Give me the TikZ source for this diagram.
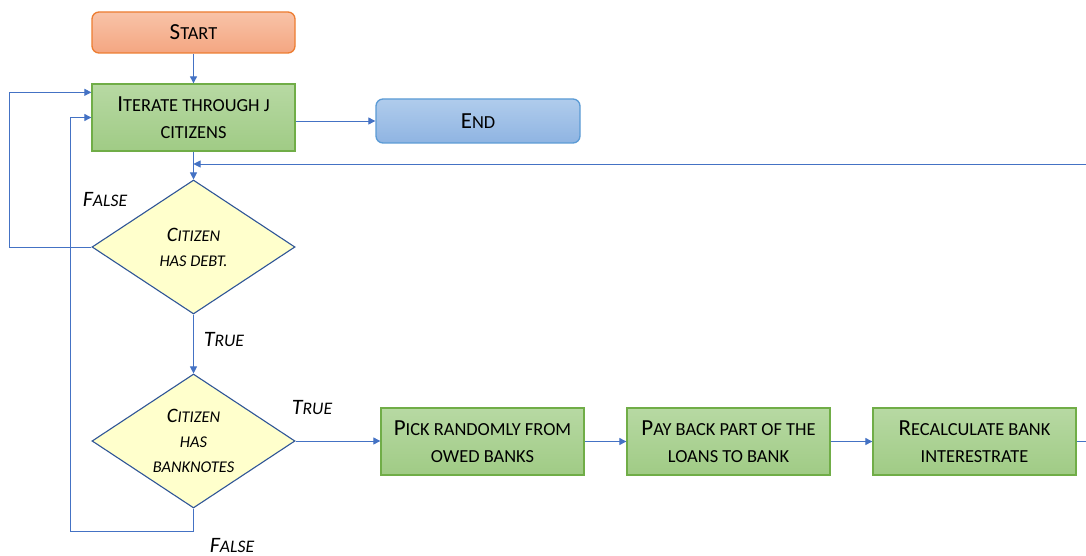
\documentclass[tikz,border=0pt]{standalone}
\usepackage{fontspec}
\setmainfont{Carlito}
\usetikzlibrary{arrows.meta,shapes.geometric,calc}
\makeatletter
% reduced-size capitals standing in for small caps
\newcommand\lc[1]{{\fontsize{\fpeval{0.8*\f@size}}{\f@baselineskip}\selectfont #1}}
\makeatother
\definecolor{arrowblue}{HTML}{4472C4}
\definecolor{orangeedge}{HTML}{ED7D31}
\definecolor{orangetop}{HTML}{F8C3A8}
\definecolor{orangebot}{HTML}{F4A681}
\definecolor{greenedge}{HTML}{70AD47}
\definecolor{greentop}{HTML}{B7D9A3}
\definecolor{greenbot}{HTML}{A0CB85}
\definecolor{blueedge}{HTML}{5B9BD5}
\definecolor{bluetop}{HTML}{B0CCEC}
\definecolor{bluebot}{HTML}{8FB4E2}
\definecolor{decfill}{HTML}{FFFFCC}
\definecolor{decedge}{HTML}{2F5597}
\tikzset{
  boxtext/.style={font=\fontsize{23}{27}\selectfont, align=center, inner sep=0pt},
  terminal/.style={boxtext, rounded corners=7pt, line width=1.3pt,
    minimum width=203pt, minimum height=41pt},
  startbox/.style={terminal, draw=orangeedge, top color=orangetop, bottom color=orangebot},
  endbox/.style={terminal, draw=blueedge, top color=bluetop, bottom color=bluebot,
    minimum width=204pt, minimum height=44pt},
  process/.style={boxtext, draw=greenedge, line width=1.3pt, top color=greentop,
    bottom color=greenbot, minimum width=203pt, minimum height=67pt},
  decision/.style={diamond, draw=decedge, fill=decfill, line width=1.1pt, inner sep=0pt,
    aspect=1.5, minimum width=203pt, minimum height=134pt,
    font=\itshape\fontsize{20.5}{25}\selectfont, align=center},
  flow/.style={draw=arrowblue, line width=0.9pt, -{Triangle[length=7pt,width=7pt]}},
  line/.style={draw=arrowblue, line width=0.9pt},
  answer/.style={font=\itshape\fontsize{22}{24}\selectfont, inner sep=0pt},
}
\begin{document}
\begin{tikzpicture}[x=1pt, y=-1pt]
  \fill[white] (0,0) rectangle (1086,556);
  \useasboundingbox (0,0) rectangle (1086,556);

  % boxes
  \node[startbox] (start) at (193.5,32.5) {S\lc{TART}};
  \node[process]  (iter)  at (193.5,117.5) {I\lc{TERATE THROUGH J}\\\lc{CITIZENS}};
  \node[endbox]   (end)   at (478,121) {E\lc{ND}};
  \node[decision] (debt)  at (193.5,247) {C\lc{ITIZEN}\\\lc{HAS DEBT.}};
  \node[decision] (notes) at (193.5,441) {C\lc{ITIZEN}\\\lc{HAS}\\\lc{BANKNOTES}};
  \node[process]  (pick)  at (482.5,441.5) {P\lc{ICK RANDOMLY FROM}\\\lc{OWED BANKS}};
  \node[process]  (pay)   at (728.5,441.5) {P\lc{AY BACK PART OF THE}\\\lc{LOANS TO BANK}};
  \node[process]  (rec)   at (974.5,441.5) {R\lc{ECALCULATE BANK}\\\lc{INTERESTRATE}};

  % branch labels
  \node[answer] (fdebt)  at (105,200) {F\lc{ALSE}};
  \node[answer] (tdebt)  at (224,340) {T\lc{RUE}};
  \node[answer] (tnotes) at (312,408) {T\lc{RUE}};
  \node[answer] (fnotes) at (232,545) {F\lc{ALSE}};

  % loose ends and bends
  \coordinate (backin)  at (1086,164);
  \coordinate (merge)   at (193.5,164);
  \coordinate (outer)   at (9,247);
  \coordinate (inner)   at (70,531);
  \coordinate (recout)  at (1086,441.5);

  % connectors
  \draw[flow] (start) -- (iter);
  \draw[flow] (iter.east |- end.west) -- (end.west);
  \draw[flow] (iter) -- (debt.north);
  \draw[flow] (backin) -- (merge);
  \draw[flow] (debt.west) -- (outer) |- ($(iter.north west)+(0,9)$);
  \draw[flow] (debt.south) -- (notes.north);
  \draw[flow] (notes.south) |- (inner) |- (iter.west);
  \draw[flow] (notes.east) -- (pick.west |- notes.east);
  \draw[flow] (pick) -- (pay);
  \draw[flow] (pay) -- (rec);
  \draw[line] (rec) -- (recout);
\end{tikzpicture}
\end{document}
